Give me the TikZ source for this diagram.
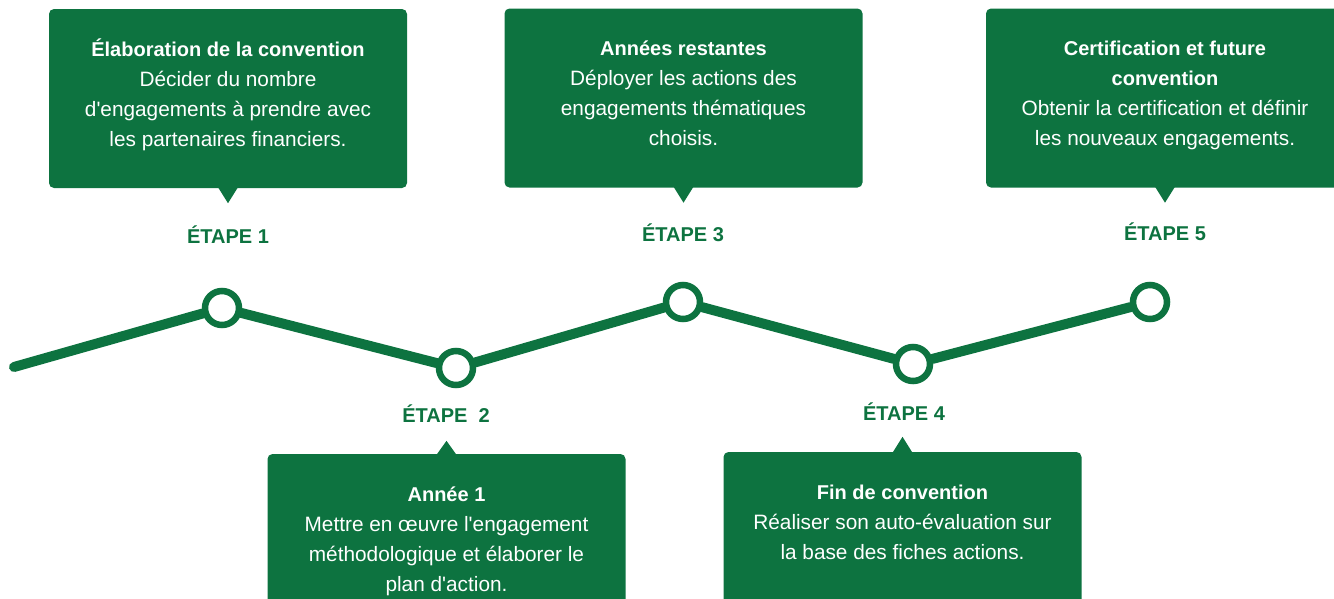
\documentclass[tikz,border=0pt]{standalone}
\usepackage{fontspec}
\setmainfont{Liberation Sans}[Ligatures=TeXOff]
\usetikzlibrary{positioning, calc}
\definecolor{forest}{RGB}{13,115,64}
\newcommand{\steptitle}[1]{{\fontsize{20}{30}\selectfont\bfseries\rule{0pt}{24pt}#1}}

\begin{document}
\begin{tikzpicture}[x=1pt, y=-1pt,
  stepbox/.style={rectangle, rounded corners=5pt, fill=forest, minimum width=358pt, minimum height=179pt, inner sep=0pt},
  boxtext/.style={text=white, align=center, inner sep=0pt, font=\fontsize{20.8}{30}\selectfont},
  steplabel/.style={text=forest, anchor=base, inner sep=0pt, font=\fontsize{20}{24}\selectfont\bfseries},
  milestone/.style={circle, draw=forest, line width=6.5pt, fill=white, minimum size=34pt, inner sep=0pt},
  track/.style={draw=forest, line width=10pt, line cap=round}]
\clip (0,0) rectangle (1334,598);

% Timeline
\coordinate (start) at (14,367);
\node[milestone] (c1) at (222,308) {};
\node[milestone] (c2) at (456,368) {};
\node[milestone] (c3) at (683,302) {};
\node[milestone] (c4) at (913,364) {};
\node[milestone] (c5) at (1150,302) {};

\draw[track] (start) -- (c1) -- (c2) -- (c3) -- (c4) -- (c5);

% Step labels
\node[steplabel] (e1) at (228,243) {ÉTAPE 1};
\node[steplabel] (e2) at (446,422) {ÉTAPE\ \ 2};
\node[steplabel] (e3) at (683,241) {ÉTAPE 3};
\node[steplabel] (e4) at (904,420) {ÉTAPE 4};
\node[steplabel] (e5) at (1165,240) {ÉTAPE 5};

% Boxes
\node[stepbox] (b1) at (228,98.5) {};
\node[stepbox] (b2) at (446.5,543.5) {};
\node[stepbox] (b3) at (683.5,98) {};
\node[stepbox] (b4) at (902.5,541.5) {};
\node[stepbox] (b5) at (1165,98) {};

\fill[forest] ($(b1.south)+(-10,-1)$) -- ($(b1.south)+(10,-1)$) -- ($(b1.south)+(0,15)$) -- cycle;
\fill[forest] ($(b2.north)+(-10,1)$) -- ($(b2.north)+(10,1)$) -- ($(b2.north)+(0,-13)$) -- cycle;
\fill[forest] ($(b3.south)+(-10,-1)$) -- ($(b3.south)+(10,-1)$) -- ($(b3.south)+(0,15)$) -- cycle;
\fill[forest] ($(b4.north)+(-10,1)$) -- ($(b4.north)+(10,1)$) -- ($(b4.north)+(0,-15)$) -- cycle;
\fill[forest] ($(b5.south)+(-10,-1)$) -- ($(b5.south)+(10,-1)$) -- ($(b5.south)+(0,15)$) -- cycle;

\node[boxtext, below=23pt of b1.north] (t1) {\steptitle{Élaboration de la convention}\\Décider du nombre\\d'engagements à prendre avec\\les partenaires financiers.};
\node[boxtext, below=23pt of b2.north] (t2) {\steptitle{Année 1}\\Mettre en œuvre l'engagement\\méthodologique et élaborer le\\plan d'action.};
\node[boxtext, below=23pt of b3.north] (t3) {\steptitle{Années restantes}\\Déployer les actions des\\engagements thématiques\\choisis.};
\node[boxtext, below=23pt of b4.north] (t4) {\steptitle{Fin de convention}\\Réaliser son auto-évaluation sur\\la base des fiches actions.};
\node[boxtext, below=23pt of b5.north] (t5) {\steptitle{Certification et future}\\\steptitle{convention}\\Obtenir la certification et définir\\les nouveaux engagements.};
\end{tikzpicture}
\end{document}
